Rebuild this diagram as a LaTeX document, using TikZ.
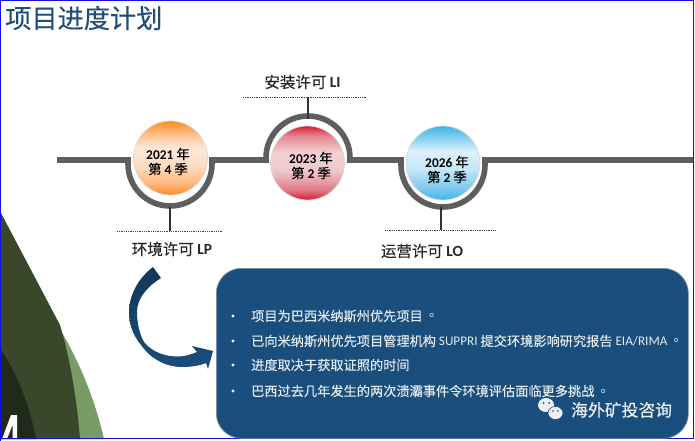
\documentclass[tikz,border=0pt]{standalone}
\usepackage{fontspec}
\setmainfont{Noto Sans CJK SC}[FakeBold=0.25]
\newfontfamily\lat{Carlito}
\newfontfamily\tcf{Noto Sans CJK TC}
\newcommand{\LB}[1]{{\lat\bfseries #1}}
\newcommand{\LR}[1]{{\lat #1}}
\newcommand{\dotp}{{\tcf 。}}
\definecolor{titleblue}{HTML}{1F4E79}
\definecolor{navy}{HTML}{1A4E7C}
\definecolor{rail}{HTML}{5E5E5E}
\definecolor{frame}{HTML}{1010E0}
\definecolor{gdark}{HTML}{39482B}
\definecolor{gdeep}{HTML}{1F2A18}
\definecolor{glight}{HTML}{789C64}
\definecolor{inktxt}{HTML}{262626}
\definecolor{oa}{HTML}{FF8A1E}\definecolor{ob}{HTML}{FFC08C}\definecolor{oc}{HTML}{FFE8D8}\definecolor{od}{HTML}{FFDCC2}\definecolor{oe}{HTML}{FFB880}
\definecolor{ra}{HTML}{D81E32}\definecolor{rb}{HTML}{E58A94}\definecolor{rc}{HTML}{F3D0D4}\definecolor{rd}{HTML}{EFC8CC}\definecolor{re}{HTML}{E07C88}
\definecolor{ba}{HTML}{3FB5E8}\definecolor{bb}{HTML}{8FD2F1}\definecolor{bc}{HTML}{DDF1FB}\definecolor{bd}{HTML}{C5E7F7}\definecolor{be}{HTML}{7CCAEE}
\pgfdeclareverticalshading{orangeball}{100bp}{color(0bp)=(oa);color(25bp)=(oa);color(33bp)=(oe);color(45bp)=(od);color(57bp)=(oc);color(66bp)=(ob);color(75bp)=(oa);color(100bp)=(oa)}
\pgfdeclareverticalshading{redball}{100bp}{color(0bp)=(ra);color(25bp)=(ra);color(32bp)=(re);color(45bp)=(rd);color(57bp)=(rc);color(68bp)=(rb);color(75bp)=(ra);color(100bp)=(ra)}
\pgfdeclareverticalshading{blueball}{100bp}{color(0bp)=(ba);color(25bp)=(ba);color(33bp)=(be);color(46bp)=(bd);color(58bp)=(bc);color(66bp)=(bb);color(75bp)=(ba);color(100bp)=(ba)}
\tikzset{
  railline/.style={draw=rail,line width=5.6pt,line join=miter},
  stem/.style={draw=black!80,line width=1.1pt},
  dotline/.style={draw=black!75,line width=0.9pt,dash pattern=on 0.9pt off 0.9pt},
  milestone/.style={circle,minimum size=74pt,inner sep=0pt,draw=white!85!black,line width=0.7pt},
  yearlabel/.style={align=center,text=black,inner sep=0pt,font=\fontsize{13.4}{15}\selectfont},
  permit/.style={text=inktxt,font=\fontsize{15.5}{18}\selectfont,inner sep=0pt},
  item/.style={anchor=west,text=white!88!navy,inner sep=0pt,font=\fontsize{13.2}{15}\selectfont},
  bulletdot/.style={circle,fill=white,inner sep=0pt,minimum size=3.4pt},
}
\begin{document}
\begin{tikzpicture}[x=1pt,y=-1pt]
\useasboundingbox (0,0) rectangle (695,441);
\fill[white] (0,0) rectangle (695,441);
% left leaf shapes
\fill[glight] (58,326) .. controls (80,362) and (95,400) .. (104,439) -- (78,439) -- (58,340) -- cycle;
\fill[gdark] (1,213) -- (60,325) .. controls (70,358) and (77,400) .. (80,439) -- (1,439) -- cycle;
\fill[gdeep] (1,350) .. controls (16,372) and (30,405) .. (36,439) -- (1,439) -- cycle;
\fill[white] (2,439) -- (11,415) -- (17,415) -- (17,439) -- (12.5,439) -- (12.5,425) -- (7,439) -- cycle;
% frame
\draw[frame,line width=1.3pt] (0.7,441) -- (0.7,0.7) -- (693.3,0.7) -- (693.3,438.7) -- (0.7,438.7);
% title
\node[anchor=west,inner sep=0pt,text=titleblue,font=\fontsize{26.2}{30}\selectfont] (title) at (5,18) {项目进度计划};
% rail
\path[railline] (57,160) -- (128,160) -- (128,164) arc[start angle=180,end angle=0,radius=42] -- (212,160) -- (266,160) -- (266,158) arc[start angle=180,end angle=360,radius=42] -- (350,160) -- (401,160) -- (401,165) arc[start angle=180,end angle=0,radius=42] -- (485,160) -- (693,160);
% milestones
\node[milestone,shading=orangeball] (m1) at (170.5,158) {};
\node[milestone,shading=redball] (m2) at (307.5,163) {};
\node[milestone,shading=blueball] (m3) at (443,163) {};
\node[yearlabel] (y1) at (168,161.5) {\LB{2021} 年\\第 \LB{4} 季};
\node[yearlabel] (y2) at (311,165.5) {\LB{2023} 年\\第 \LB{2} 季};
\node[yearlabel] (y3) at (447,169.5) {\LB{2026} 年\\第 \LB{2} 季};
% stems and dotted lines
\coordinate (a1) at (170,207); \coordinate (b1) at (170,231);
\coordinate (a2) at (308,119); \coordinate (b2) at (308,97);
\coordinate (a3) at (441,207); \coordinate (b3) at (441,230);
\coordinate (d1l) at (117,231); \coordinate (d1r) at (222,231);
\coordinate (d2l) at (243,97); \coordinate (d2r) at (367,97);
\coordinate (d3l) at (385,230); \coordinate (d3r) at (496,230);
\draw[stem] (a1) -- (b1);
\draw[stem] (a2) -- (b2);
\draw[stem] (a3) -- (b3);
\draw[dotline] (d1l) -- (d1r);
\draw[dotline] (d2l) -- (d2r);
\draw[dotline] (d3l) -- (d3r);
\node[permit] (li) at (302.5,82) {安装许可 \LB{LI}};
\node[permit] (lp) at (172,249) {环境许可 \LB{LP}};
\node[permit] (lo) at (422,251) {运营许可 \LB{LO}};
% curved arrow
\path[top color=navy!70!black,bottom color=navy] (153,267) .. controls (136,280) and (129,298) .. (129,312) .. controls (129,325) and (133,335) .. (141,345) .. controls (150,358) and (165,367) .. (182,367) .. controls (190,367) and (199,366) .. (206,363) -- (208,369) -- (213,351) -- (192,346) -- (197,352) .. controls (190,355) and (185,356) .. (180,356.5) .. controls (165,357) and (152,352) .. (144,342) .. controls (139,333) and (137,322) .. (137,312) .. controls (137,298) and (148,286) .. (161,278) -- cycle;
% box
\node[draw=navy!60!white,line width=0.7pt,fill=navy,rounded corners=25pt,minimum width=472pt,minimum height=170pt,inner sep=0pt,anchor=north west] (box) at (216,268) {};
\foreach \n/\yy in {b1/316,b2/341,b3/365,b4/391} \node[bulletdot] (\n) at (233,\yy) {};
\node[item] (t1) at (251,316) {项目为巴西米纳斯州优先项目\,\dotp};
\node[item] (t2) at (251,341) {已向米纳斯州优先项目管理机构 \LR{SUPPRI} 提交环境影响研究报告 \LR{EIA/RIMA}\,\dotp};
\node[item] (t3) at (251,365) {进度取决于获取证照的时间};
\node[item] (t4) at (251,391) {巴西过去几年发生的两次溃灞事件令环境评估面临更多挑战\,\dotp};
% watermark
\fill[white!92!navy] (546,405) ellipse [x radius=8,y radius=7];
\fill[white!92!navy] (555.5,413) ellipse [x radius=7.5,y radius=6.5];
\draw[navy,line width=0.6pt] (555.5,413) ellipse [x radius=7.5,y radius=6.5];
\fill[navy] (543.5,403) circle (1) (549,403) circle (1) (553,411) circle (0.8) (558,411) circle (0.8);
\node[anchor=west,inner sep=0pt,text=white!92!navy,font=\fontsize{16.8}{19}\selectfont] (wm) at (571,410) {海外矿投咨询};
\end{tikzpicture}
\end{document}
